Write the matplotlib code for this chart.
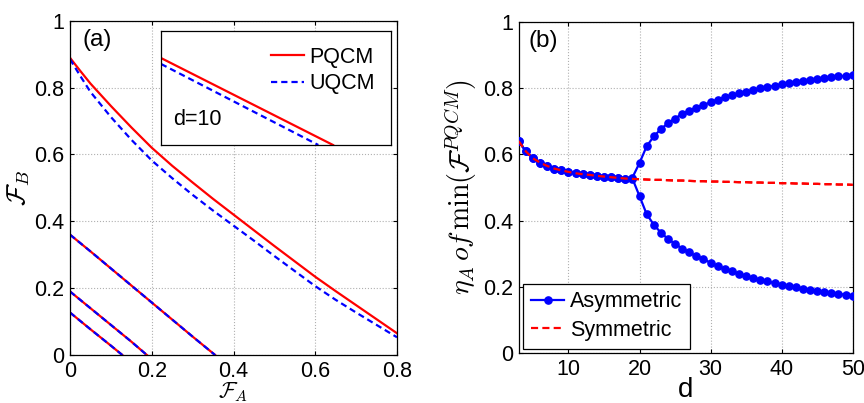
import matplotlib
matplotlib.use("Agg")
import matplotlib.pyplot as plt

plt.rcParams['font.family'] = ['Liberation Sans', 'DejaVu Sans']
plt.rcParams['mathtext.fontset'] = 'cm'

# ---------------- Panel (a) data ----------------
# d=10 curve
fa_d10 = [0.0, 0.025, 0.05, 0.1, 0.15, 0.2, 0.25, 0.3, 0.35, 0.4,
          0.45, 0.5, 0.55, 0.6, 0.65, 0.7, 0.75, 0.8]
fb_d10_pqcm = [0.889, 0.850, 0.812, 0.745, 0.681, 0.620, 0.566, 0.516, 0.467, 0.420,
               0.373, 0.326, 0.280, 0.234, 0.191, 0.149, 0.107, 0.065]
fb_d10_uqcm = [0.885, 0.835, 0.787, 0.712, 0.644, 0.582, 0.529, 0.479, 0.432, 0.387,
               0.342, 0.296, 0.251, 0.206, 0.165, 0.127, 0.090, 0.053]

# lower curves (PQCM and UQCM coincide)
fa_c1 = [0.0, 0.025, 0.05, 0.1, 0.15, 0.2, 0.25, 0.3, 0.33, 0.355]
fb_c1 = [0.360, 0.335, 0.310, 0.259, 0.208, 0.157, 0.106, 0.055, 0.025, 0.0]
fa_c2 = [0.0, 0.05, 0.1, 0.15, 0.188]
fb_c2 = [0.190, 0.140, 0.090, 0.040, 0.0]
fa_c3 = [0.0, 0.05, 0.1, 0.128]
fb_c3 = [0.127, 0.077, 0.028, 0.0]

# inset (zoomed view, normalised units)
inset_x_pqcm = [0.0, 0.748]
inset_y_pqcm = [0.761, 0.0]
inset_x_uqcm = [0.0, 0.684]
inset_y_uqcm = [0.709, 0.0]

# ---------------- Panel (b) data ----------------
d_vals = list(range(3, 51))
asym_upper = [0.640, 0.609, 0.588, 0.575, 0.565, 0.557, 0.552, 0.547, 0.543, 0.540,
              0.538, 0.535, 0.533, 0.531, 0.529, 0.527, 0.530,
              0.574, 0.624, 0.654, 0.676, 0.694, 0.708, 0.722, 0.732, 0.741, 0.749,
              0.757, 0.765, 0.772, 0.778, 0.784, 0.789, 0.794, 0.799, 0.803, 0.807,
              0.811, 0.815, 0.819, 0.822, 0.825, 0.828, 0.831, 0.833, 0.835, 0.837, 0.840]
asym_lower = [0.640, 0.609, 0.588, 0.575, 0.565, 0.557, 0.552, 0.547, 0.543, 0.540,
              0.538, 0.535, 0.533, 0.531, 0.529, 0.527, 0.527,
              0.474, 0.420, 0.388, 0.364, 0.345, 0.330, 0.316, 0.304, 0.293, 0.284,
              0.273, 0.262, 0.254, 0.247, 0.240, 0.233, 0.227, 0.222, 0.217, 0.212,
              0.207, 0.203, 0.199, 0.195, 0.192, 0.188, 0.185, 0.182, 0.179, 0.177, 0.174]
sym = [0.640, 0.609, 0.588, 0.575, 0.565, 0.557, 0.552, 0.547, 0.543, 0.540,
       0.538, 0.535, 0.533, 0.531, 0.529, 0.527, 0.526,
       0.525, 0.524, 0.523, 0.523, 0.522, 0.521, 0.521, 0.520, 0.519, 0.519,
       0.518, 0.518, 0.517, 0.517, 0.516, 0.516, 0.515, 0.515, 0.514, 0.514,
       0.513, 0.513, 0.512, 0.512, 0.511, 0.511, 0.510, 0.510, 0.509, 0.509, 0.508]

RED = '#ff0000'
BLUE = '#0000ff'
FS = 15.5
dash_a = (2.8, 1.8)
dash_b = (3.2, 1.9)

fig = plt.figure(figsize=(8.64, 4.03), dpi=100)

def style_axes(ax):
    ax.grid(True, linestyle=':', color='#b0b0b0', linewidth=0.8)
    ax.tick_params(direction='in', length=3, width=0.8, top=True, right=True,
                   labelsize=FS, pad=4)
    for s in ax.spines.values():
        s.set_linewidth(0.9)
    ax.set_axisbelow(True)

# ----- Panel (a)
axa = fig.add_axes([70/864, 48/403, 327/864, 334.3/403])
for fa, fp, fu in [(fa_d10, fb_d10_pqcm, fb_d10_uqcm), (fa_c1, fb_c1, fb_c1),
                   (fa_c2, fb_c2, fb_c2), (fa_c3, fb_c3, fb_c3)]:
    axa.plot(fa, fp, color=RED, lw=1.6)
    axa.plot(fa, fu, color=BLUE, lw=1.6, dashes=dash_a)
axa.set_xlim(0, 0.8)
axa.set_ylim(0, 1)
axa.set_xticks([0, 0.2, 0.4, 0.6, 0.8])
axa.set_xticklabels(['0', '0.2', '0.4', '0.6', '0.8'])
axa.set_yticks([0, 0.2, 0.4, 0.6, 0.8, 1.0])
axa.set_yticklabels(['0', '0.2', '0.4', '0.6', '0.8', '1'])
style_axes(axa)
axa.set_xlabel(r'$\mathcal{F}_A$', fontsize=16, labelpad=-1)
axa.set_ylabel(r'$\mathcal{F}_B$', fontsize=19, labelpad=2)
axa.text(0.037, 0.975, '(a)', transform=axa.transAxes, fontsize=17.5, va='top', ha='left')

# inset
axi = fig.add_axes([161/864, (403-145)/403, 230/864, 114.3/403])
axi.plot(inset_x_pqcm, inset_y_pqcm, color=RED, lw=1.6, label='PQCM')
axi.plot(inset_x_uqcm, inset_y_uqcm, color=BLUE, lw=1.6, dashes=dash_a, label='UQCM')
axi.set_xlim(0, 1)
axi.set_ylim(0, 1)
axi.set_xticks([])
axi.set_yticks([])
for s in axi.spines.values():
    s.set_linewidth(0.9)
axi.text(0.052, 0.22, 'd=10', transform=axi.transAxes, fontsize=FS, va='center', ha='left')
axi.legend(loc='upper right', frameon=False, fontsize=FS, handlelength=1.55,
           handletextpad=0.25, labelspacing=0.25, borderaxespad=0.35)

# ----- Panel (b)
axb = fig.add_axes([518.7/864, 49.7/403, 334/864, 331.6/403])
axb.plot(d_vals, sym, color=RED, lw=1.6, dashes=dash_b, zorder=2)
axb.plot(d_vals, asym_upper, color=BLUE, lw=1.6, marker='o', markersize=5.2, zorder=3,
         label='Asymmetric')
axb.plot(d_vals, asym_lower, color=BLUE, lw=1.6, marker='o', markersize=5.2, zorder=3)
axb.plot(d_vals, sym, color=RED, lw=1.6, dashes=dash_b, zorder=4, label='Symmetric')
axb.set_xlim(3, 50)
axb.set_ylim(0, 1)
axb.set_xticks([10, 20, 30, 40, 50])
axb.set_yticks([0, 0.2, 0.4, 0.6, 0.8, 1.0])
axb.set_yticklabels(['0', '0.2', '0.4', '0.6', '0.8', '1'])
style_axes(axb)
axb.set_xlabel('d', fontsize=20, labelpad=-2)
axb.set_ylabel(r'$\eta_A\, of\, \min(\mathcal{F}^{PQCM})$', fontsize=20, labelpad=3)
axb.text(0.03, 0.975, '(b)', transform=axb.transAxes, fontsize=17.5, va='top', ha='left')
leg = axb.legend(loc='lower left', fontsize=FS, numpoints=1, handlelength=1.55,
                 handletextpad=0.25, labelspacing=0.35, borderaxespad=0.22,
                 borderpad=0.35, fancybox=False, edgecolor='black', framealpha=1)
leg.get_frame().set_linewidth(0.9)

fig.savefig('out.png', dpi=100)
